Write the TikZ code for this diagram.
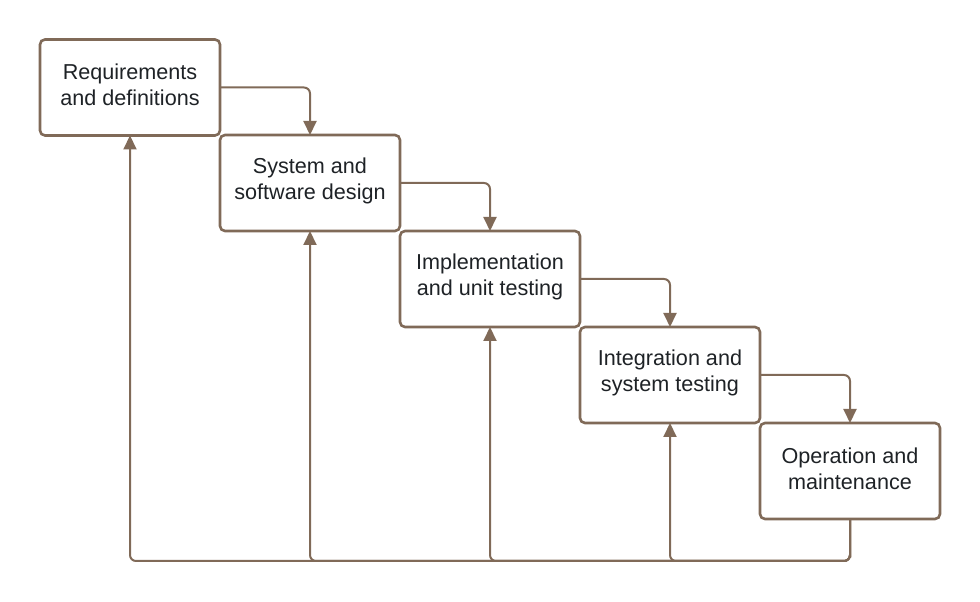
\documentclass[tikz,border=0pt]{standalone}
\usepackage{fontspec}
\setmainfont{Liberation Sans}
\usetikzlibrary{arrows.meta}
\definecolor{edge}{HTML}{806A58}
\definecolor{ink}{HTML}{1E2226}
\begin{document}
\begin{tikzpicture}[x=1pt,y=1pt,
  phase/.style={draw=edge, line width=2.6pt, rounded corners=5pt, fill=white,
    minimum width=180pt, minimum height=96pt, inner sep=0pt, outer sep=0pt},
  caption/.style={align=center, text=ink, yshift=2.5pt, inner sep=0pt,
    font=\fontsize{21.6}{26}\selectfont},
  flow/.style={draw=edge, line width=2pt, rounded corners=6pt,
    -{Triangle[length=14pt,width=13pt]}}]
\useasboundingbox (0,0) rectangle (980,602);
\node[phase, label={[caption]center:Requirements\\and definitions}] (b1) at (130,514.5) {};
\node[phase, label={[caption]center:System and\\software design}] (b2) at (310,419) {};
\node[phase, label={[caption]center:Implementation\\and unit testing}] (b3) at (490,323) {};
\node[phase, label={[caption]center:Integration and\\system testing}] (b4) at (670,227) {};
\node[phase, label={[caption]center:Operation and\\maintenance}] (b5) at (850,131) {};
% forward steps
\draw[flow] (b1.east) -| (b2.north);
\draw[flow] (b2.east) -| (b3.north);
\draw[flow] (b3.east) -| (b4.north);
\draw[flow] (b4.east) -| (b5.north);
% feedback along the bottom
\coordinate (base) at (850,41);
\draw[flow] (b5.south) |- (base) -| (b1.south);
\draw[flow] (b5.south) |- (base) -| (b2.south);
\draw[flow] (b5.south) |- (base) -| (b3.south);
\draw[flow] (b5.south) |- (base) -| (b4.south);
\end{tikzpicture}
\end{document}
